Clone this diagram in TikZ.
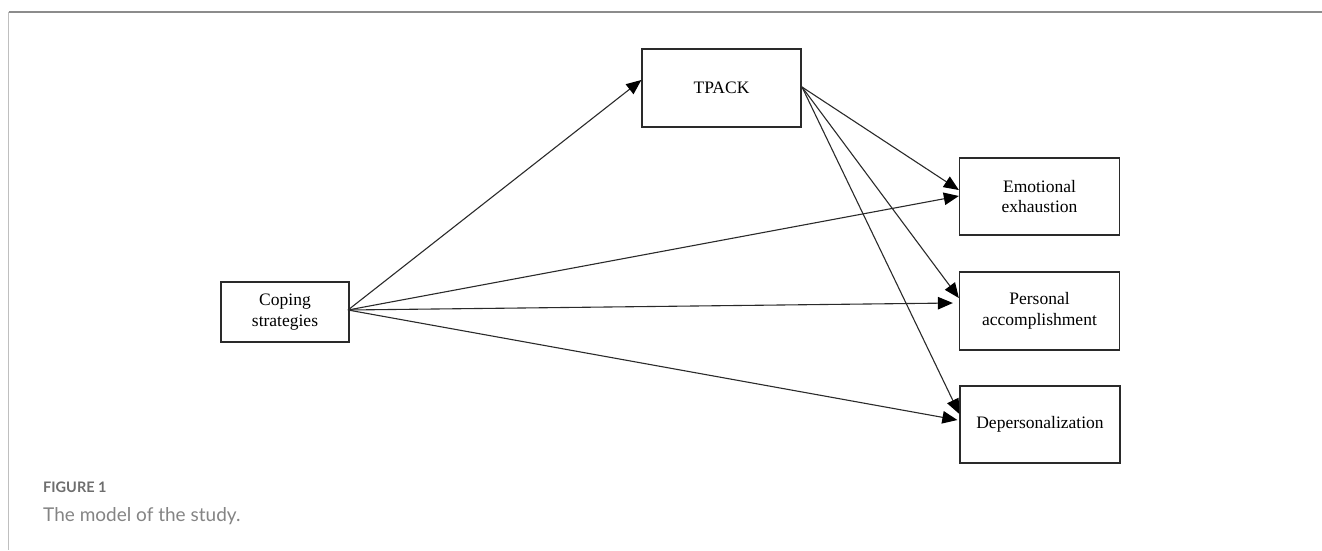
\documentclass[tikz,border=0pt]{standalone}
\usepackage{fontspec}
\setmainfont{Liberation Serif}
\newfontfamily\capfont{Lato}
\usetikzlibrary{arrows.meta}
\definecolor{boxline}{HTML}{2A2A2A}
\definecolor{capgray}{HTML}{6E6E6E}
\tikzset{
  box/.style={draw=boxline, line width=1.3pt, rectangle, inner sep=0pt, align=center,
    font=\fontsize{17.5}{20.5}\selectfont, text=black},
  link/.style={draw=boxline, line width=1.1pt, -{Triangle[length=15pt,width=12.5pt,color=black]}}
}
\begin{document}
\begin{tikzpicture}[x=1pt,y=-1pt]
\useasboundingbox (0,0) rectangle (1322,550);
% frame
\draw[draw=black!45, line width=1.2pt] (8.5,12) -- (1322,12);
\draw[draw=black!25, line width=1.4pt] (8.5,12) -- (8.5,550);
% boxes
\node[box, minimum width=128pt, minimum height=60pt] (cope) at (285,312) {Coping\\strategies};
\node[box, minimum width=159pt, minimum height=78pt] (tpack) at (721.5,88) {TPACK};
\node[box, minimum width=160pt, minimum height=77pt] (emot) at (1039.5,196.5) {Emotional\\exhaustion};
\node[box, minimum width=160pt, minimum height=78pt] (pers) at (1039.5,311) {Personal\\accomplishment};
\node[box, minimum width=160pt, minimum height=77pt] (dep) at (1040,424.5) {Depersonalization};
% sources
\coordinate (cs) at (348,310);
\coordinate (ts) at (802,87);
% arrows
\draw[link] (cs) -- ([yshift=8pt]tpack.west);
\draw[link] (ts) -- ([yshift=6.5pt]emot.west);
\draw[link] (ts) -- ([yshift=13pt]pers.west);
\draw[link] (ts) -- ([yshift=10.5pt]dep.west);
\draw[link] (cs) -- ([yshift=0.5pt]emot.west);
\draw[link] (cs) -- ([xshift=-6pt,yshift=8pt]pers.west);
\draw[link] (cs) -- ([xshift=-2pt,yshift=4.5pt]dep.west);
% caption
\node[anchor=base west, inner sep=0pt, text=capgray, font=\capfont\bfseries\fontsize{14.5}{17}\selectfont] (fig) at (43,492) {FIGURE 1};
\node[anchor=base west, inner sep=0pt, text=capgray!85, font=\capfont\fontsize{19}{22}\selectfont] (cap) at (43,521) {The model of the study.};
\end{tikzpicture}
\end{document}
